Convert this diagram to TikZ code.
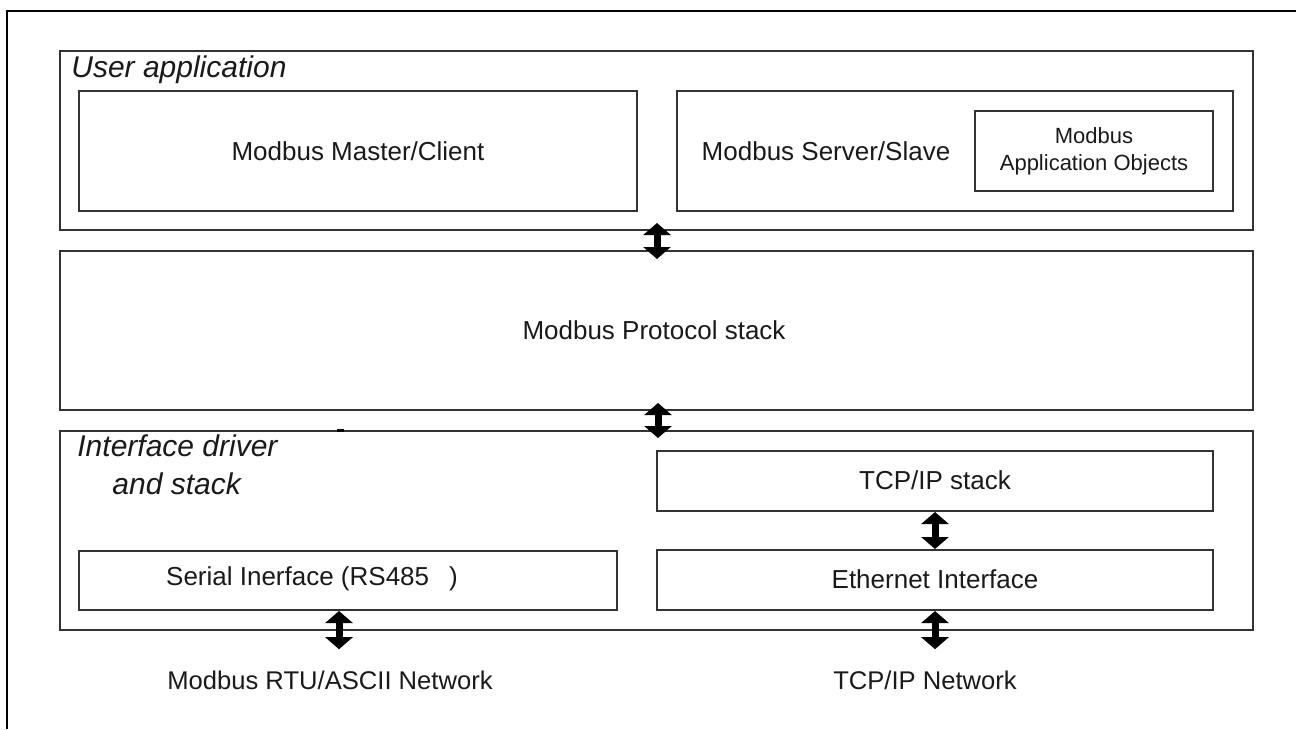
\documentclass[tikz,border=0pt]{standalone}
\usepackage{fontspec}
\setmainfont{Liberation Sans}
\usetikzlibrary{arrows.meta}
\definecolor{boxline}{HTML}{333333}
\definecolor{txt}{HTML}{1A1A1A}
\begin{document}
\begin{tikzpicture}[x=0.5pt,y=-0.5pt,
  box/.style={draw=boxline, line width=1pt, inner sep=0pt, text=txt},
  lbl/.style={inner sep=0pt, text=txt, font=\fontsize{13pt}{15pt}\selectfont},
  netlbl/.style={inner sep=0pt, text=txt, font=\fontsize{12.8pt}{15pt}\selectfont},
  ital/.style={inner sep=0pt, text=txt, font=\fontsize{15pt}{19pt}\selectfont\itshape},
  dbl/.style={line width=3.5pt, black, {Triangle[width=13.5pt,length=6pt]}-{Triangle[width=13.5pt,length=6pt]}},
  frameline/.style={line width=1.3pt, black}]
\useasboundingbox (0,0) rectangle (1296,729);
\fill[white] (0,0) rectangle (1296,729);
% outer frame (top and left only)
\coordinate (ftl) at (7,11);
\coordinate (ftr) at (1296,11);
\coordinate (fbl) at (7,729);
\draw[frameline] (ftr) -- (ftl) -- (fbl);

% user application layer
\node[box, minimum width=596.5pt, minimum height=89.5pt] (userapp) at (656.5,140.5) {};
\node[ital, anchor=base west] (userlbl) at (71,77) {User application};
\node[box, minimum width=279pt, minimum height=60pt] (master) at (358,151) {};
\node[lbl] (mastertxt) at (358,151) {Modbus Master/Client};
\node[box, minimum width=278pt, minimum height=60pt] (server) at (955,151) {};
\node[lbl] (servertxt) at (826,151) {Modbus Server/Slave};
\node[box, minimum width=119pt, minimum height=40pt, align=center,
      font=\fontsize{11pt}{13.5pt}\selectfont] (objects) at (1094,151) {Modbus\\Application Objects};

% protocol stack
\node[box, minimum width=596.5pt, minimum height=79.5pt] (proto) at (656.5,330.5) {};
\node[lbl] (prototxt) at (654,330) {Modbus Protocol stack};

% interface driver and stack
\node[box, minimum width=596.5pt, minimum height=99.5pt] (iface) at (656.5,530.5) {};
\node[ital, anchor=base west] (idrv1) at (77,456) {Interface driver};
\node[ital, anchor=base west] (idrv2) at (112,494) {and stack};
\node[box, minimum width=269pt, minimum height=29.5pt] (serial) at (348,580.5) {};
\node[lbl] (serialtxt) at (312,579) {Serial Inerface (RS485\hspace{10pt})};
\node[box, minimum width=278pt, minimum height=30pt] (tcpstack) at (935,481) {};
\node[lbl] (tcptxt) at (935,480) {TCP/IP stack};
\node[box, minimum width=278pt, minimum height=30pt] (eth) at (935,580) {};
\node[lbl] (ethtxt) at (935,579) {Ethernet Interface};
\draw[line width=1.5pt, black] (337,430) -- (344,430);

% network labels
\node[netlbl] (rtunet) at (330,680) {Modbus RTU/ASCII Network};
\node[netlbl] (tcpnet) at (925,680) {TCP/IP Network};

% arrows
\coordinate (a1) at (657,0);
\coordinate (a2) at (658,0);
\coordinate (a3) at (339,0);
\coordinate (a4) at (935,0);
\draw[dbl, shorten <=-4pt, shorten >=-4.5pt] (userapp.south -| a1) -- (proto.north -| a1);
\draw[dbl, shorten <=-4pt, shorten >=-4pt] (proto.south -| a2) -- (iface.north -| a2);
\draw[dbl] (tcpstack.south) -- (eth.north);
\draw[dbl, shorten >=10.5pt] (serial.south -| a3) -- (rtunet.north -| a3);
\draw[dbl, shorten >=10.5pt] (eth.south -| a4) -- (tcpnet.north -| a4);
\end{tikzpicture}
\end{document}
